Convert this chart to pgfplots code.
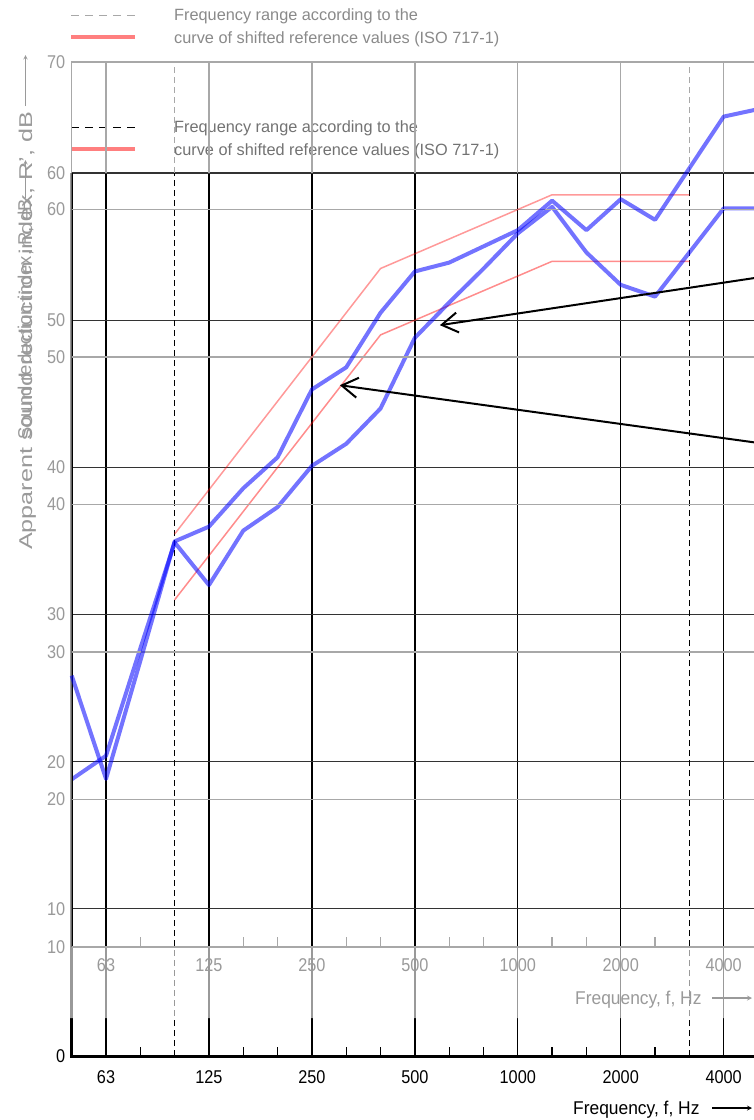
\documentclass[border=0pt]{standalone}
\usepackage{pgfplots}
\pgfplotsset{compat=1.18}
\usepackage{pgfplotstable}
\usepackage{graphicx}
\usetikzlibrary{arrows.meta}
\usepackage{fontspec}
\setmainfont{Liberation Sans}
\newfontfamily\tickfont{Liberation Sans}[FakeStretch=0.88]
\newfontfamily\labfont{Liberation Sans}[FakeStretch=0.94]
\definecolor{gridgray}{HTML}{A8A8A8}
\definecolor{labgray}{HTML}{9A9A9A}
\definecolor{leggray}{HTML}{8A8A8A}
\definecolor{leggrayb}{HTML}{727272}

% upper measured curve (background chart, 10..70 dB)
\pgfplotstableread{
i v
0 28.4
1 21.4
2 29.4
3 37.5
4 38.5
5 41.1
6 43.2
7 47.8
8 49.3
9 53.0
10 55.8
11 56.4
12 57.5
13 58.6
14 60.6
15 58.6
16 60.7
17 59.3
18 62.8
19 66.3
20 66.8
}\tblA
% upper shifted reference curve
\pgfplotstableread{
i v
3 38
4 41
5 44
6 47
7 50
8 53
9 56
10 57
11 58
12 59
13 60
14 61
15 61
16 61
17 61
18 61
}\refA
% lower measured curve (front chart, 0..60 dB)
\pgfplotstableread{
i v
0 18.8
1 20.4
2 27.7
3 34.9
4 32.0
5 35.7
6 37.3
7 40.1
8 41.6
9 44.0
10 48.8
11 51.2
12 53.5
13 55.9
14 57.7
15 54.6
16 52.4
17 51.6
18 54.6
19 57.6
20 57.6
}\tblB
% lower shifted reference curve
\pgfplotstableread{
i v
3 31
4 34
5 37
6 40
7 43
8 46
9 49
10 50
11 51
12 52
13 53
14 54
15 54
16 54
17 54
18 54
}\refB

\begin{document}
\begin{tikzpicture}
% ---------------- front chart (black) ----------------
\begin{axis}[
  at={(71.7pt,-1056pt)}, anchor=south west,
  scale only axis, width=686.3pt, height=883pt,
  xmin=0, xmax=20, ymin=0, ymax=60, clip=false,
  axis line style={draw=none},
  xtick={1,4,7,10,13,16,19},
  xticklabels={63,125,250,500,1000,2000,4000},
  minor xtick={2,5,6,8,9,11,12,14,15,17},
  ytick={0,10,...,60},
  xtick pos=left, ytick pos=left,
  grid=major,
  major x grid style={black, line width=1.3pt},
  major y grid style={black!80, line width=1.1pt},
  major tick length=0pt, minor tick length=9pt,
  minor tick style={black, line width=1.3pt},
  /pgf/number format/assume math mode=true,
  tick label style={font=\tickfont\fontsize{18.5}{20}\selectfont, text=black},
  xticklabel style={anchor=center, yshift=-21pt},
  yticklabel style={anchor=east, xshift=-3pt},
]
\draw[black, line width=1pt, dash pattern=on 6pt off 4pt] (axis cs:3,0) -- (axis cs:3,60);
\draw[black, line width=1pt, dash pattern=on 6pt off 4pt] (axis cs:18,0) -- (axis cs:18,60);
\addplot[red, opacity=0.45, line width=1.5pt] table[x=i,y=v] {\refB};
\addplot[blue, opacity=0.55, line width=4pt, line join=round] table[x=i,y=v] {\tblB};
\draw[black, line width=2pt, -{Straight Barb[length=16pt,width=20pt]}] (axis cs:21,53.25) -- (axis cs:10.73,49.66);
\draw[black, line width=2pt, -{Straight Barb[length=16pt,width=20pt]}] (axis cs:21,41.34) -- (axis cs:7.815,45.58);
\draw[black, line width=3pt] (axis cs:0,60) -- (axis cs:0,0) -- (axis cs:20,0);
\end{axis}
% front legend
\draw[black, line width=1pt, dash pattern=on 8pt off 6pt] (71pt,-127pt) -- (135pt,-127pt);
\draw[red, opacity=0.5, line width=3.5pt] (71pt,-149pt) -- (135pt,-149pt);
\node[anchor=base west, inner sep=0pt, text=leggrayb, font=\fontsize{16.3}{18}\selectfont] at (174pt,-132.7pt) {Frequency range according to the};
\node[anchor=base west, inner sep=0pt, text=leggrayb, font=\fontsize{16.3}{18}\selectfont] at (174pt,-155.5pt) {curve of shifted reference values (ISO 717-1)};
% front axis labels
\node[rotate=90, anchor=base west, inner sep=0pt, text=black, font=\fontsize{18.5}{20}\selectfont] at (31pt,-440pt) {Sound reduction index, R, dB};
\draw[black, line width=1pt, -stealth] (25.5pt,-198pt) -- (25.5pt,-160pt);
\node[anchor=base west, inner sep=0pt, text=black, font=\labfont\fontsize{18.5}{20}\selectfont] at (573pt,-1114.6pt) {Frequency, f, Hz};
\draw[black, line width=1.2pt, -stealth] (712pt,-1108pt) -- (752pt,-1108pt);

% ---------------- semi-transparent frame of the background chart ----------------
\fill[white, opacity=0.6, even odd rule] (0pt,0pt) rectangle (780pt,-1018pt) (71.7pt,-62pt) rectangle (780pt,-947pt);

% ---------------- background chart (grey) ----------------
\begin{axis}[
  at={(71.7pt,-947pt)}, anchor=south west,
  scale only axis, width=686.3pt, height=885pt,
  xmin=0, xmax=20, ymin=10, ymax=70, clip=false,
  axis line style={draw=none},
  xtick={1,4,7,10,13,16,19},
  xticklabels={63,125,250,500,1000,2000,4000},
  minor xtick={2,5,6,8,9,11,12,14,15,17},
  ytick={10,20,...,70},
  xtick pos=left, ytick pos=left,
  ymajorgrids=true, xmajorgrids=false,
  major y grid style={gridgray, line width=1.5pt},
  major tick length=0pt, minor tick length=10pt,
  minor tick style={gridgray, line width=1.3pt},
  /pgf/number format/assume math mode=true,
  tick label style={font=\tickfont\fontsize{18.5}{20}\selectfont, text=labgray},
  xticklabel style={anchor=center, yshift=-18pt},
  yticklabel style={anchor=east, xshift=-3pt},
]
% vertical grid of the grey chart, visible only above the front chart
\pgfplotsinvokeforeach{1,4,7,10,13,16,19}{
  \draw[gridgray, line width=1.4pt] (axis cs:#1,62.47) -- (axis cs:#1,70);
}
\draw[gridgray, line width=1pt, dash pattern=on 6pt off 4pt] (axis cs:3,62.47) -- (axis cs:3,70);
\draw[gridgray, line width=1pt, dash pattern=on 6pt off 4pt] (axis cs:18,62.47) -- (axis cs:18,70);
\addplot[red, opacity=0.4, line width=1.5pt] table[x=i,y=v] {\refA};
\addplot[blue, opacity=0.55, line width=4pt, line join=round] table[x=i,y=v] {\tblA};
\draw[gridgray, line width=1.5pt] (axis cs:0,62.47) -- (axis cs:0,70) -- (axis cs:20,70);
\draw[gridgray, line width=2.5pt] (axis cs:0,10) -- (axis cs:20,10);
\end{axis}
% background legend
\draw[gridgray, line width=1pt, dash pattern=on 8pt off 6pt] (71pt,-15pt) -- (135pt,-15pt);
\draw[red, opacity=0.5, line width=3.5pt] (71pt,-37pt) -- (135pt,-37pt);
\node[anchor=base west, inner sep=0pt, text=leggray, font=\fontsize{16.3}{18}\selectfont] at (174pt,-20.7pt) {Frequency range according to the};
\node[anchor=base west, inner sep=0pt, text=leggray, font=\fontsize{16.3}{18}\selectfont] at (174pt,-43.5pt) {curve of shifted reference values (ISO 717-1)};
% background axis labels
\node[rotate=90, anchor=base west, inner sep=0pt, text=labgray, font=\fontsize{18.5}{20}\selectfont] at (32pt,-550pt) {\scalebox{1.36}[1]{Apparent sound reduction index, R', dB}};
\draw[labgray, line width=1pt, -stealth] (25.5pt,-106pt) -- (25.5pt,-55pt);
\node[anchor=base west, inner sep=0pt, text=labgray, font=\labfont\fontsize{18.5}{20}\selectfont] at (575pt,-1004.6pt) {Frequency, f, Hz};
\draw[labgray, line width=1.2pt, -stealth] (712pt,-998pt) -- (752pt,-998pt);

\pgfresetboundingbox
\path[use as bounding box] (0pt,0pt) rectangle (753pt,-1120pt);
\end{tikzpicture}
\end{document}
